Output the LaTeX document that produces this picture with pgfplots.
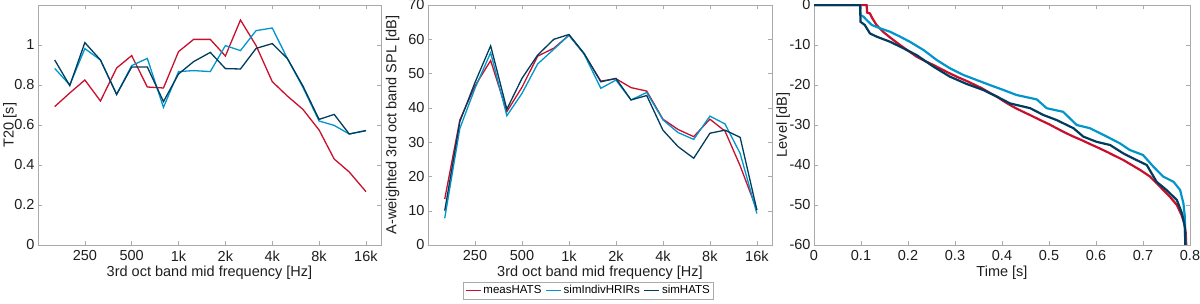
\documentclass[border=0pt]{standalone}
\usepackage{fontspec}
\setmainfont{Liberation Sans}
\usepackage{pgfplots}
\usepackage{pgfplotstable}
\pgfplotsset{compat=1.18}
\definecolor{cRed}{RGB}{200,16,46}
\definecolor{cLight}{RGB}{0,150,204}
\definecolor{cDark}{RGB}{0,60,94}
\definecolor{cBox}{RGB}{170,170,170}
\definecolor{cTxt}{RGB}{30,30,30}

\pgfplotstableread{
f meas indiv hats
160 0.692 0.883 0.925
200 0.760 0.800 0.797
250 0.825 0.982 1.012
315 0.720 0.925 0.925
400 0.885 0.753 0.753
500 0.947 0.897 0.890
630 0.790 0.933 0.890
800 0.785 0.688 0.717
1000 0.967 0.867 0.855
1250 1.028 0.872 0.917
1600 1.028 0.867 0.963
2000 0.945 0.997 0.882
2500 1.125 0.972 0.880
3150 0.997 1.072 0.983
4000 0.817 1.085 1.007
5000 0.745 0.933 0.933
6300 0.678 0.788 0.795
8000 0.575 0.620 0.628
10000 0.430 0.598 0.653
12500 0.365 0.555 0.555
16000 0.267 0.572 0.572
}\tT

\pgfplotstableread{
f meas indiv hats
160 13.4 7.8 10.0
200 36.5 34.0 36.0
250 46.4 45.7 47.4
315 53.8 56.1 58.1
400 38.9 37.7 39.6
500 46.0 44.2 48.6
630 55.1 52.8 55.4
800 57.4 57.1 60.0
1000 61.2 61.2 61.4
1250 55.7 55.7 55.9
1600 47.8 45.7 47.6
2000 48.5 48.1 48.6
2500 45.9 42.3 42.3
3150 44.9 44.5 43.6
4000 36.7 36.5 33.5
5000 33.7 32.8 28.7
6300 31.6 30.8 25.3
8000 36.7 37.6 32.6
10000 33.2 35.3 33.5
12500 23.1 26.7 31.4
16000 10.2 9.2 10.2
}\tS

\pgfplotstableread{
t L
0 0
0.112 0
0.113 -1.9
0.119 -2.1
0.124 -3.3
0.133 -5
0.147 -6.7
0.165 -8.4
0.183 -10
0.2 -11.4
0.218 -12.9
0.236 -14
0.254 -15
0.272 -16.1
0.289 -17.1
0.307 -18.1
0.325 -19
0.341 -19.9
0.357 -20.8
0.373 -21.9
0.389 -22.9
0.403 -24
0.417 -25
0.431 -25.9
0.445 -26.7
0.463 -27.7
0.481 -28.75
0.5 -29.8
0.516 -30.8
0.534 -31.9
0.552 -32.9
0.57 -33.8
0.587 -34.75
0.605 -35.7
0.623 -36.7
0.64 -37.7
0.658 -38.75
0.676 -40
0.694 -41.25
0.715 -42.9
0.736 -45.4
0.757 -47.9
0.772 -50
0.782 -52.5
0.788 -54.6
0.791 -57
0.792 -60
}\dRed

\pgfplotstableread{
t L
0 0
0.098 0
0.099 -2.5
0.105 -2.9
0.112 -3.75
0.123 -5
0.14 -5.8
0.162 -6.7
0.183 -7.9
0.204 -9.2
0.233 -11.25
0.261 -13.75
0.289 -15.8
0.318 -17.5
0.346 -18.75
0.374 -20
0.403 -21.25
0.431 -22.5
0.474 -23.6
0.495 -25.8
0.53 -26.7
0.559 -30
0.587 -30.8
0.623 -32.9
0.651 -34.6
0.672 -36.25
0.7 -37.5
0.722 -40.4
0.743 -42.9
0.765 -44.2
0.779 -46.25
0.786 -49.6
0.789 -52.9
0.79 -60
}\dLight

\pgfplotstableread{
t L
0 0
0.098 0
0.099 -4.2
0.108 -5
0.119 -7.1
0.133 -7.9
0.162 -9.2
0.183 -10.4
0.218 -12.5
0.254 -15.4
0.289 -17.9
0.325 -19.75
0.36 -21.25
0.389 -22.9
0.417 -24.6
0.46 -25.8
0.488 -27.5
0.516 -28.75
0.552 -30.8
0.573 -32.9
0.601 -34.2
0.63 -35
0.658 -37.1
0.686 -38.75
0.708 -40
0.729 -44.2
0.75 -46.25
0.772 -48.75
0.783 -52.1
0.789 -55.4
0.79 -60
}\dDark

\pgfplotsset{
  myax/.style={
    scale only axis,
    axis line style={cBox},
    every tick/.style={cBox, thin},
    tick align=inside,
    major tick length=4pt,
    tick label style={font=\fontsize{14.5}{17}\selectfont, text=cTxt},
    label style={font=\fontsize{14.5}{17}\selectfont, text=cTxt},
    xticklabel style={yshift=-2pt},
    /pgf/number format/assume math mode=true,
    xlabel style={at={(axis description cs:0.5,-0.117)}, anchor=center},
  },
  freqax/.style={
    myax,
    height=240pt,
    xmin=125, xmax=20000,
    xtick={250,500,1000,2000,4000,8000,16000},
    xticklabels={250,500,1k,2k,4k,8k,16k},
    xlabel={3rd oct band mid frequency [Hz]},
    minor xtick={},
  },
}

\begin{document}
\begin{tikzpicture}
\begin{axis}[xmode=log, log basis x=2, freqax, width=343pt, at={(38pt,-245pt)}, anchor=south west,
  ymin=0, ymax=1.2, ytick={0,0.2,0.4,0.6,0.8,1},
  ylabel={T20 [s]},
  ylabel style={at={(axis description cs:-0.082,0.5)}, anchor=center}]
  \addplot[cRed, line width=1.3pt] table[x=f,y=meas]{\tT};
  \addplot[cLight, line width=1.3pt] table[x=f,y=indiv]{\tT};
  \addplot[cDark, line width=1.3pt] table[x=f,y=hats]{\tT};
\end{axis}

\begin{axis}[xmode=log, log basis x=2, freqax, at={(428pt,-245pt)}, anchor=south west,
  width=344pt,
  ymin=0, ymax=70, ytick={0,10,...,70},
  ylabel={A-weighted 3rd oct band SPL [dB]},
  ylabel style={at={(axis description cs:-0.103,0.5)}, anchor=center},
  legend columns=3,
  legend style={at={(0.4665,-0.154)}, anchor=north, draw=cBox,
    font=\fontsize{11.5}{13}\selectfont, inner sep=1.5pt,
    /tikz/every even column/.append style={column sep=2pt}},
  legend image code/.code={\draw[#1] (0pt,0pt) -- (15pt,0pt);},
  ]
  \addplot[cRed, line width=1.3pt] table[x=f,y=meas]{\tS};
  \addlegendentry{measHATS}
  \addplot[cLight, line width=1.3pt] table[x=f,y=indiv]{\tS};
  \addlegendentry{simIndivHRIRs}
  \addplot[cDark, line width=1.3pt] table[x=f,y=hats]{\tS};
  \addlegendentry{simHATS}
\end{axis}

\begin{axis}[myax, at={(814pt,-245pt)}, anchor=south west,
  width=376pt, height=240pt,
  xmin=0, xmax=0.8, ymin=-60, ymax=0,
  xtick={0,0.1,...,0.8}, ytick={-60,-50,...,0},
  xticklabel style={/pgf/number format/fixed},
  xlabel={Time [s]},
  ylabel={Level [dB]},
  ylabel style={at={(axis description cs:-0.082,0.5)}, anchor=center}]
  \addplot[cRed, line width=2.2pt] table[x=t,y=L]{\dRed};
  \addplot[cLight, line width=2.2pt] table[x=t,y=L]{\dLight};
  \addplot[cDark, line width=2.2pt] table[x=t,y=L]{\dDark};
\end{axis}
\pgfresetboundingbox
\useasboundingbox (0,0) rectangle (1200pt,-304pt);
\end{tikzpicture}
\end{document}
